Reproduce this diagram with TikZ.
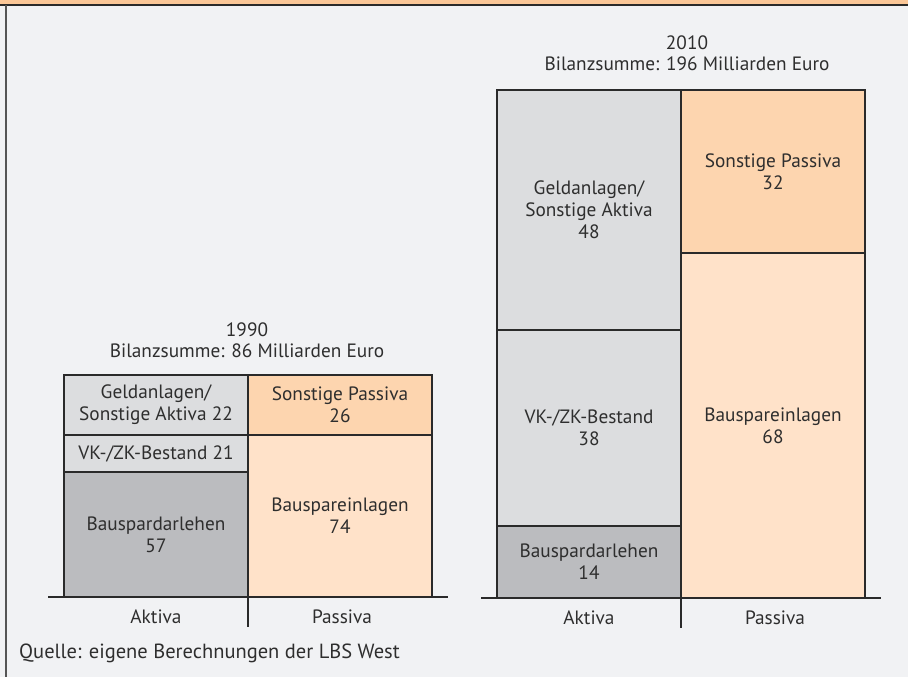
\documentclass[tikz,border=0pt]{standalone}
\usepackage{fontspec}
\setmainfont{PT Sans}
\usepackage{xcolor}
\usepackage{tikz}
\usetikzlibrary{calc, positioning}

\definecolor{hintergrund}{HTML}{F1F2F4}
\definecolor{band}{HTML}{FBC797}
\definecolor{linie}{HTML}{2A2A2A}
\definecolor{schrift}{HTML}{2E2E2E}
\definecolor{grauhell}{HTML}{DCDDDF}
\definecolor{graudunkel}{HTML}{BBBCBF}
\definecolor{orangemittel}{HTML}{FDD5AF}
\definecolor{orangehell}{HTML}{FFE2C9}

\begin{document}
\begin{tikzpicture}[x=1pt, y=-1pt, font=\fontsize{19.3}{22}\selectfont, text=schrift,
    feld/.style={draw=linie, line width=1.5pt, anchor=north west, outer sep=0pt,
        inner sep=0pt, align=center, minimum width=184},
    achse/.style={draw=linie, line width=2.8pt},
    titel/.style={align=center, font=\fontsize{19.3}{21}\selectfont}]
    % Rahmen und Hintergrund
    \useasboundingbox (0,0) rectangle (908,677);
    \fill[hintergrund] (0,0) rectangle (908,677);
    \fill[band] (0,0) rectangle (908,4.5);
    \draw[linie, line width=1.5pt] (0,5) -- (908,5);
    \draw[linie!80, line width=2pt] (6,5) -- (6,677);

    % 1990
    \node[feld, fill=grauhell, minimum height=60] (geld90) at (64,375) {Geldanlagen/\\Sonstige Aktiva 22};
    \node[feld, fill=grauhell, minimum height=37] (vk90) at (geld90.south west) {VK-/ZK-Bestand 21};
    \node[feld, fill=graudunkel, minimum height=125] (darl90) at (vk90.south west) {Bauspardarlehen\\57};
    \node[feld, fill=orangemittel, minimum height=60] (sonst90) at (geld90.north east) {Sonstige Passiva\\26};
    \node[feld, fill=orangehell, minimum height=162] (einl90) at (sonst90.south west) {Bauspareinlagen\\74};
    \draw[achse] ($(darl90.south west)+(-16,0)$) -- ($(einl90.south east)+(16,0)$);
    \draw[achse] (geld90.north east) -- ($(darl90.south east)+(0,30)$);
    \node[titel] (titel90) at ($(geld90.north east)+(-1,-35)$) {1990\\Bilanzsumme: 86 Milliarden Euro};
    \node (aktiva90) at ($(darl90.south)+(0,20)$) {Aktiva};
    \node (passiva90) at ($(einl90.south)+(2,20)$) {Passiva};

    % 2010
    \node[feld, fill=grauhell, minimum height=240] (geld10) at (497,90) {Geldanlagen/\\Sonstige Aktiva\\48};
    \node[feld, fill=grauhell, minimum height=196] (vk10) at (geld10.south west) {VK-/ZK-Bestand\\38};
    \node[feld, fill=graudunkel, minimum height=72] (darl10) at (vk10.south west) {Bauspardarlehen\\14};
    \node[feld, fill=orangemittel, minimum height=163] (sonst10) at (geld10.north east) {Sonstige Passiva\\32};
    \node[feld, fill=orangehell, minimum height=345] (einl10) at (sonst10.south west) {Bauspareinlagen\\68};
    \draw[achse] ($(darl10.south west)+(-16,0)$) -- ($(einl10.south east)+(16,0)$);
    \draw[achse] (geld10.north east) -- ($(darl10.south east)+(0,30)$);
    \node[titel] (titel10) at ($(geld10.north east)+(6,-37)$) {2010\\Bilanzsumme: 196 Milliarden Euro};
    \node (aktiva10) at ($(darl10.south)+(0,20)$) {Aktiva};
    \node (passiva10) at ($(einl10.south)+(2,20)$) {Passiva};

    % Quelle
    \node[anchor=west, inner sep=0pt, font=\fontsize{20.5}{24}\selectfont] (quelle) at (19,653) {Quelle: eigene Berechnungen der LBS West};
\end{tikzpicture}
\end{document}
